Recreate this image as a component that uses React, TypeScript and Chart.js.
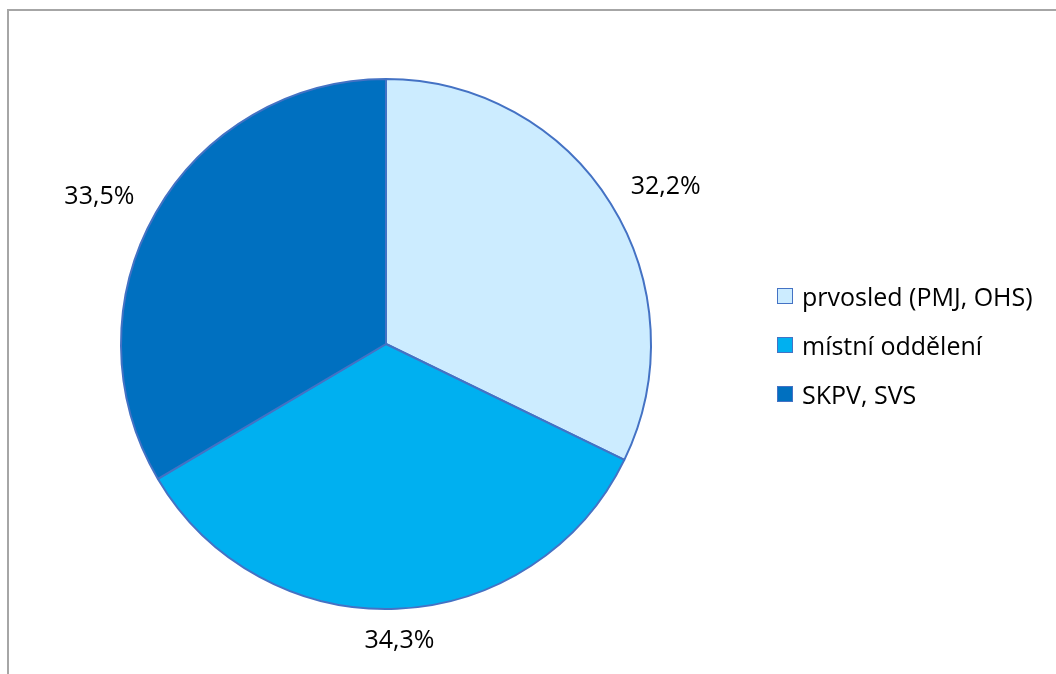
import React, { useEffect, useRef } from "react";
import { Chart, registerables } from "chart.js";

Chart.register(...registerables);

const categories = ["prvosled (PMJ, OHS)", "místní oddělení", "SKPV, SVS"];
const values = [32.2, 34.3, 33.5];
const valueLabels = ["32,2%", "34,3%", "33,5%"];
const colors = ["#CCECFF", "#00B0F0", "#0070C0"];
const borderColor = "#4472C4";
const FONT = "'Open Sans', 'Noto Sans', sans-serif";

const labelPlugin = {
  id: "outerLabels",
  afterDatasetsDraw(chart: any) {
    const ctx = chart.ctx;
    const meta = chart.getDatasetMeta(0);
    ctx.save();
    ctx.font = `25px ${FONT}`;
    ctx.fillStyle = "#000";
    ctx.textAlign = "center";
    ctx.textBaseline = "middle";
    meta.data.forEach((arc: any, i: number) => {
      const { x, y, startAngle, endAngle, outerRadius } = arc.getProps(
        ["x", "y", "startAngle", "endAngle", "outerRadius"],
        true
      );
      const mid = (startAngle + endAngle) / 2;
      const c = Math.cos(mid);
      const s = Math.sin(mid);
      const d = outerRadius + 20;
      const lx = x + c * d + c * 45;
      const ly = y + s * d + s * 12;
      ctx.fillText(valueLabels[i], lx, ly);
    });
    ctx.restore();
  },
};

export default function App() {
  const ref = useRef<HTMLCanvasElement | null>(null);
  useEffect(() => {
    if (!ref.current) return;
    const chart = new Chart(ref.current, {
      type: "pie",
      data: {
        labels: categories,
        datasets: [
          {
            data: values,
            backgroundColor: colors,
            borderColor: borderColor,
            borderWidth: 2,
          },
        ],
      },
      options: {
        animation: false,
        responsive: false,
        maintainAspectRatio: false,
        layout: { padding: { left: 120, top: 78, right: 404, bottom: 64 } },
        plugins: {
          legend: { display: false },
          tooltip: { enabled: false },
        },
      },
      plugins: [labelPlugin],
    });
    return () => chart.destroy();
  }, []);

  return (
    <div
      style={{
        position: "absolute",
        left: 0,
        top: 0,
        width: 1056,
        height: 674,
        overflow: "hidden",
        background: "#fff",
      }}
    >
      <div
        style={{
          position: "absolute",
          left: 7,
          top: 9,
          width: 1100,
          height: 700,
          borderLeft: "2px solid #A6A6A6",
          borderTop: "2px solid #A6A6A6",
        }}
      />
      <canvas
        ref={ref}
        width={1056}
        height={674}
        style={{ position: "absolute", left: 0, top: 0, width: 1056, height: 674 }}
      />
      {categories.map((c, i) => (
        <div
          key={c}
          style={{
            position: "absolute",
            left: 777,
            top: 280 + i * 49,
            height: 32,
            display: "flex",
            alignItems: "center",
            fontFamily: FONT,
            fontSize: 25,
            color: "#000",
            whiteSpace: "nowrap",
          }}
        >
          <span
            style={{
              display: "inline-block",
              width: 14,
              height: 14,
              background: colors[i],
              border: `1px solid ${borderColor}`,
              marginRight: 9,
              flex: "none",
            }}
          />
          {c}
        </div>
      ))}
    </div>
  );
}
